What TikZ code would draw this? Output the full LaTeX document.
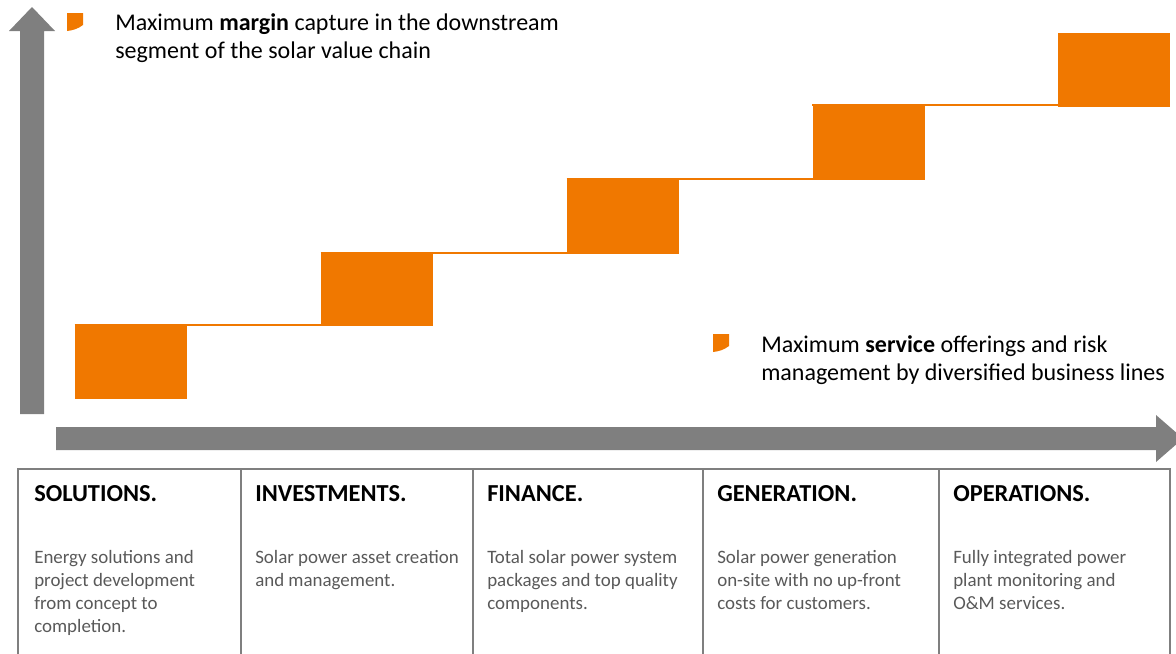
\documentclass[tikz,border=0pt]{standalone}
\usepackage{fontspec}
\setmainfont{Carlito}
\usetikzlibrary{positioning}
\definecolor{solarorange}{HTML}{F07800}
\definecolor{axisgray}{HTML}{7F7F7F}
\definecolor{textgray}{HTML}{595959}
\tikzset{
  stepbox/.style={fill=solarorange, draw=none, inner sep=0pt, minimum width=84pt, minimum height=55.5pt},
  stepline/.style={draw=solarorange, line width=1.5pt},
  axis/.style={fill=axisgray, draw=none},
  cell/.style={draw=axisgray, line width=1.5pt},
  note/.style={anchor=base west, inner sep=0pt, align=left, font=\fontsize{18}{21}\selectfont},
  head/.style={anchor=base west, inner sep=0pt, font=\fontsize{18.3}{21}\selectfont\bfseries},
  desc/.style={anchor=base west, inner sep=0pt, align=left, text=textgray, font=\fontsize{14.2}{17.25}\selectfont},
  bullet/.style={fill=solarorange, draw=none}
}
\begin{document}
\begin{tikzpicture}[x=0.75pt,y=-0.75pt]
\useasboundingbox (0,0) rectangle (1176,653);
% axes
\fill[axis] (20,414) -- (20,31) -- (9,31) -- (32,7) -- (55,31) -- (44,31) -- (44,414) -- cycle;
\fill[axis] (56,427) -- (1156,427) -- (1156,415) -- (1183,438.5) -- (1156,462) -- (1156,450) -- (56,450) -- cycle;
% steps
\node[stepbox] (b1) at (131,361.5) {};
\node[stepbox] (b2) at (377,289) {};
\node[stepbox] (b3) at (623,215) {};
\node[stepbox] (b4) at (868.5,141.5) {};
\node[stepbox] (b5) at (1114,69.5) {};
\draw[stepline] ([yshift=-0.75pt]b1.north west) -- ([yshift=-0.75pt]b1.north west -| b2.east);
\draw[stepline] ([yshift=-0.75pt]b2.north west) -- ([yshift=-0.75pt]b2.north west -| b3.east);
\draw[stepline] ([yshift=-0.75pt]b3.north west) -- ([yshift=-0.75pt]b3.north west -| b4.east);
\draw[stepline] ([yshift=-0.75pt]b4.north west) -- ([yshift=-0.75pt]b4.north west -| b5.east);
% notes (anchored at the last line)
\fill[bullet] (67,13) -- (83,13) -- (83,25) .. controls (78,29) and (72,30.5) .. (67,31) -- cycle;
\node[note] (margin) at (115,58) {Maximum \textbf{margin} capture in the downstream\\segment of the solar value chain};
\fill[bullet] (713,334) -- (729,334) -- (729,346) .. controls (724,350) and (718,351.5) .. (713,352) -- cycle;
\node[note] (service) at (761,380) {Maximum \textbf{service} offerings and risk\\management by diversified business lines};
% table
\draw[cell] (18,660) -- (18,469) -- (1170,469) -- (1170,660);
\draw[cell] (241,469) -- (241,660);
\draw[cell] (473,469) -- (473,660);
\draw[cell] (703,469) -- (703,660);
\draw[cell] (939,469) -- (939,660);
\node[head] (solutions) at (34,501) {SOLUTIONS.};
\node[head] (investments) at (255,501) {INVESTMENTS.};
\node[head] (finance) at (487,501) {FINANCE.};
\node[head] (generation) at (717,501) {GENERATION.};
\node[head] (operations) at (953,501) {OPERATIONS.};
\node[desc] (solutionstext) at (34,632) {Energy solutions and\\project development\\from concept to\\completion.};
\node[desc] (investmentstext) at (255,586) {Solar power asset creation\\and management.};
\node[desc] (financetext) at (487,609) {Total solar power system\\packages and top quality\\components.};
\node[desc] (generationtext) at (717,609) {Solar power generation\\on-site with no up-front\\costs for customers.};
\node[desc] (operationstext) at (953,609) {Fully integrated power\\plant monitoring and\\O\&M services.};
\end{tikzpicture}
\end{document}
